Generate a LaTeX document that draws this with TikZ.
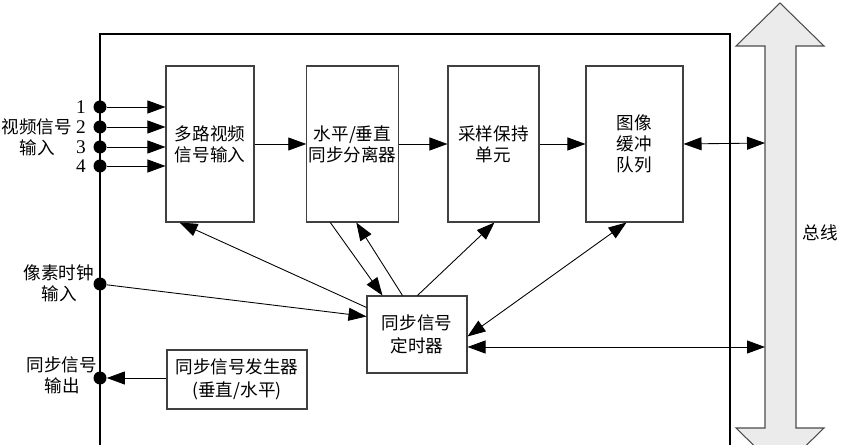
\documentclass[tikz,border=0pt]{standalone}
\usepackage{fontspec}
\setmainfont{Noto Sans CJK SC}
\newfontfamily\numfont{Liberation Serif}
\usepackage{tikz}
\usetikzlibrary{positioning,calc,arrows.meta}
\tikzstyle{block} = [draw=black!75, line width=0.6pt, align=center, inner sep=1pt, font=\fontsize{10}{12}\selectfont]
\tikzstyle{arrow} = [line width=0.5pt, -{Triangle[length=0.36cm,width=0.26cm]}]
\tikzstyle{darrow} = [line width=0.5pt, {Triangle[length=0.36cm,width=0.26cm]}-{Triangle[length=0.36cm,width=0.26cm]}]
\tikzstyle{dot} = [circle, fill=black, minimum size=0.26cm, inner sep=0pt]
\tikzstyle{lbl} = [align=center, font=\fontsize{10}{12}\selectfont, inner sep=0pt]

\begin{document}
\begin{tikzpicture}[x=0.02cm, y=-0.02cm]
        \useasboundingbox (0,0) rectangle (855,445);
        % frame and bus
        \draw[line width=0.6pt] (100,445) -- (100,34) -- (730,34) -- (730,445);
        \draw[line width=0.6pt, draw=black!70, fill=black!8] (780,3) -- (824,46) -- (796,46) -- (796,428) -- (824,428) -- (780,471) -- (736,428) -- (765,428) -- (765,46) -- (736,46) -- cycle;
        \node[lbl] (bus) at (820,233) {总线};
        \coordinate (busA) at (765,143);
        \coordinate (busB) at (765,347);

        \node[block, minimum width=1.76cm, minimum height=3.12cm] (mux) at (210,144) {多路视频\\信号输入};
        \node[block, minimum width=1.82cm, minimum height=3.12cm] (sep) at (352.5,144) {水平/垂直\\同步分离器};
        \node[block, minimum width=1.82cm, minimum height=3.12cm] (sh) at (493.5,144) {采样保持\\单元};
        \node[block, minimum width=1.94cm, minimum height=3.12cm] (buf) at (634.5,144) {图像\\缓冲\\队列};
        \node[block, minimum width=2.0cm, minimum height=1.54cm, font=\fontsize{10}{13}\selectfont] (tmr) at (417,334.5) {同步信号\\定时器};
        \node[block, minimum width=2.8cm, minimum height=1.18cm, font=\fontsize{10}{13}\selectfont] (gen) at (237,379.5) {同步信号发生器\\(垂直/水平)};

        % inputs
        \foreach \i/\y in {1/107, 2/127, 3/147, 4/166} {
            \node[dot] (in\i) at (100,\y) {};
            \node[lbl, font=\numfont\fontsize{11}{12}\selectfont] (num\i) at (81,\y) {\i};
            \draw[arrow] (in\i) -- (in\i -| mux.west);
        }
        \node[lbl] (vin) at (37,137) {视频信号\\输入};
        \node[dot] (clk) at (100,284) {};
        \node[lbl] (clkl) at (59,283) {像素时钟\\输入};
        \node[dot] (out) at (100,378) {};
        \node[lbl] (outl) at (62,375) {同步信号\\输出};

        % data path
        \draw[arrow] (mux.east) -- (sep.west);
        \draw[arrow] (sep.east) -- (sh.west);
        \draw[arrow] (sh.east) -- (buf.west);
        \draw[darrow] (buf.east) -- (busA);
        \draw[darrow] (busB -| tmr.east) -- (busB);

        % timing
        \draw[arrow] (clk) -- ($(tmr.north west)+(0,21)$);
        \draw[arrow] ($(tmr.north west)+(0,12)$) -- ($(mux.south west)+(14,0)$);
        \draw[arrow] ($(sep.south west)+(24,0)$) -- ($(tmr.north west)+(16,0)$);
        \draw[arrow] ($(tmr.north west)+(36,0)$) -- ($(sep.south west)+(50,0)$);
        \draw[arrow] ($(tmr.north west)+(51,0)$) -- ($(sh.south west)+(47,0)$);
        \draw[darrow] ($(buf.south west)+(41,0)$) -- ($(tmr.north east)+(0,41)$);
        \draw[arrow] (gen.west |- out) -- (out);
\end{tikzpicture}
\end{document}
